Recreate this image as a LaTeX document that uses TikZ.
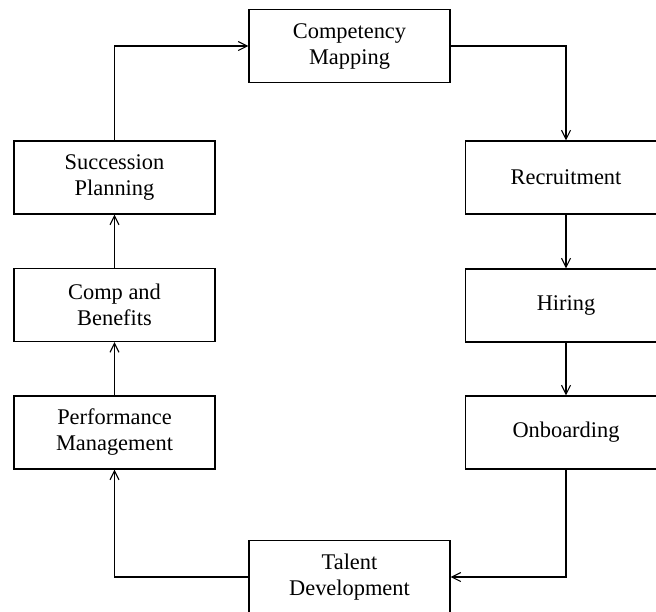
\documentclass[tikz,border=0pt]{standalone}
\usepackage{fontspec}
\setmainfont{Liberation Serif}
\usetikzlibrary{arrows.meta}
\begin{document}
\begin{tikzpicture}[x=0.5pt,y=-0.5pt,
    stage/.style={draw,line width=0.55pt,minimum width=100.5pt,minimum height=36.5pt,
        inner sep=0pt,align=center,font=\fontsize{11.2}{13}\selectfont,
        execute at begin node={\vspace*{3.5pt}}},
    link/.style={line width=0.55pt,-{Straight Barb[length=4.5pt,width=4.5pt]}}]
    \useasboundingbox (0,0) rectangle (656,611);
    % outer ring of boxes
    \node[stage] (map) at (349.5,46) {Competency\\Mapping};
    \node[stage] (rec) at (566,177.5) {Recruitment};
    \node[stage] (hire) at (566,305.5) {Hiring};
    \node[stage] (onb) at (566,432.5) {Onboarding};
    \node[stage] (tal) at (349.5,577) {Talent\\Development};
    \node[stage] (perf) at (114.5,432.5) {Performance\\Management};
    \node[stage] (comp) at (114.5,305) {Comp and\\Benefits};
    \node[stage] (succ) at (114.5,177.5) {Succession\\Planning};
    % connectors
    \draw[link] (map.east) -| (rec.north);
    \draw[link] (rec) -- (hire);
    \draw[link] (hire) -- (onb);
    \draw[link] (onb.south) |- (tal.east);
    \draw[link] (tal.west) -| (perf.south);
    \draw[link] (perf) -- (comp);
    \draw[link] (comp) -- (succ);
    \draw[link] (succ.north) |- (map.west);
\end{tikzpicture}
\end{document}
